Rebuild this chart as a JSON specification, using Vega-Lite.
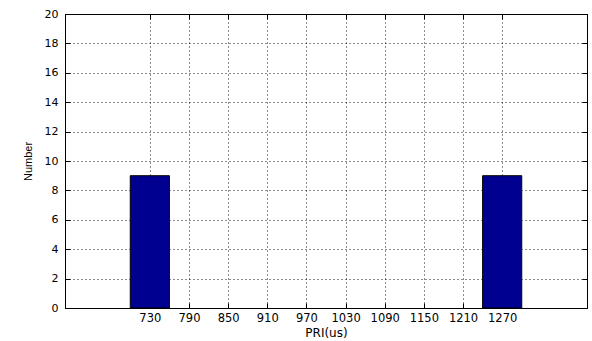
{
  "$schema": "https://vega.github.io/schema/vega-lite/v6.json",
  "width": 522,
  "height": 294,
  "autosize": {"type": "none"},
  "padding": {"left": 65, "top": 14, "right": 5, "bottom": 33},
  "background": "white",
  "config": {
    "font": "DejaVu Sans",
    "view": {"stroke": "black", "strokeWidth": 1},
    "axis": {
      "labelFont": "DejaVu Sans",
      "titleFont": "DejaVu Sans",
      "labelFontSize": 11,
      "titleFontSize": 11,
      "titleFontWeight": "normal",
      "labelColor": "black",
      "titleColor": "black",
      "domainColor": "black",
      "tickColor": "black",
      "gridColor": "black",
      "gridDash": [1, 3],
      "gridOpacity": 0.9,
      "tickSize": -5
    }
  },
  "data": {
    "values": [
      {"bin_start": 700, "bin_end": 760, "count": 9},
      {"bin_start": 1240, "bin_end": 1300, "count": 9}
    ]
  },
  "layer": [
    {
      "mark": {"type": "bar", "fill": "#000090", "stroke": "black", "strokeWidth": 1},
      "encoding": {
        "x": {
          "field": "bin_start",
          "type": "quantitative",
          "scale": {"domain": [600, 1400], "nice": false, "zero": false},
          "axis": {
            "orient": "bottom",
            "values": [730, 790, 850, 910, 970, 1030, 1090, 1150, 1210, 1270],
            "format": "d",
            "title": "PRI(us)",
            "titleFontSize": 12,
            "titlePadding": 4,
            "labelPadding": 9,
            "labelFontSize": 11.5,
            "grid": true
          }
        },
        "x2": {"field": "bin_end"},
        "y": {
          "field": "count",
          "type": "quantitative",
          "scale": {"domain": [0, 20], "nice": false},
          "axis": {
            "orient": "left",
            "values": [0, 2, 4, 6, 8, 10, 12, 14, 16, 18, 20],
            "format": "d",
            "title": "Number",
            "titleFont": "Liberation Sans",
            "titleFontSize": 11,
            "titlePadding": 11,
            "labelPadding": 12,
            "grid": true
          }
        },
        "y2": {"datum": 0}
      }
    },
    {
      "mark": {"type": "point", "opacity": 0},
      "encoding": {
        "x": {
          "field": "bin_start",
          "type": "quantitative",
          "scale": {"domain": [600, 1400], "nice": false, "zero": false},
          "axis": {
            "orient": "top",
            "values": [730, 790, 850, 910, 970, 1030, 1090, 1150, 1210, 1270],
            "labels": false,
            "title": null,
            "grid": false
          }
        },
        "y": {
          "field": "count",
          "type": "quantitative",
          "scale": {"domain": [0, 20], "nice": false},
          "axis": {
            "orient": "right",
            "values": [0, 2, 4, 6, 8, 10, 12, 14, 16, 18, 20],
            "labels": false,
            "title": null,
            "grid": false
          }
        }
      }
    }
  ],
  "resolve": {"axis": {"x": "independent", "y": "independent"}}
}
